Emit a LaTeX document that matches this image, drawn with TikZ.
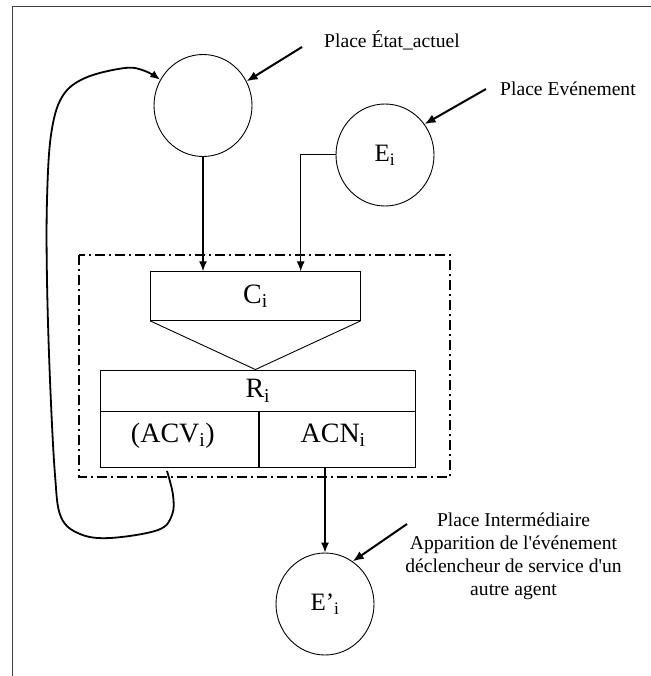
\documentclass[tikz,border=0pt]{standalone}
\usepackage{fontspec}
\setmainfont{Liberation Serif}[Ligatures=TeXOff]
\usetikzlibrary{shapes.geometric,arrows.meta}
\begin{document}
\begin{tikzpicture}[x=1pt,y=-1pt,
  place/.style={ellipse,draw,line width=0.9pt,minimum width=98pt,minimum height=102pt,inner sep=0pt,font=\fontsize{25}{30}\selectfont},
  cell/.style={rectangle,draw,line width=0.9pt,inner sep=0pt,font=\fontsize{28}{32}\selectfont},
  celltext/.style={inner sep=0pt,font=\fontsize{28}{32}\selectfont},
  arc/.style={line width=1.4pt,-{Latex[length=10pt,width=8pt]}},
  lblarrow/.style={line width=2pt,-{Latex[length=11pt,width=9pt]}},
  lbl/.style={font=\fontsize{19.6}{23}\selectfont,inner sep=0pt},
  dashdotbox/.style={line width=2.5pt,dash pattern=on 10pt off 4pt on 2pt off 4pt},
  framel/.style={line width=0.8pt,black!75}]
\useasboundingbox (0,0) rectangle (650,676);
\draw[framel] (12,690) -- (12,6) -- (660,6);

% places
\node[place] (c1) at (203,105.5) {};
\node[place] (ei) at (385,155) {E\textsubscript{i}};
\node[place] (ep) at (325,604) {E’\textsubscript{i}};

% transition
\draw[dashdotbox] (79,255) rectangle (450,477);
\node[cell,minimum width=209.3pt,minimum height=48.8pt] (cbox) at (255.4,296.1) {C\textsubscript{i}};
\node[cell,minimum width=314.3pt,minimum height=41.7pt] (rtop) at (257.85,390.85) {R\textsubscript{i}};
\node[cell,minimum width=158.3pt,minimum height=55.6pt] (racv) at (179.85,439.5) {};
\node[cell,minimum width=156.7pt,minimum height=55.6pt] (racn) at (337.15,439.5) {};
\node[celltext] (tacv) at ([shift={(-7,-4)}]racv.center) {(ACV\textsubscript{i})};
\node[celltext] (tacn) at ([shift={(-4,-4)}]racn.center) {ACN\textsubscript{i}};
\coordinate (apex) at (cbox.south |- rtop.north);
\draw[line width=0.9pt] (cbox.south west) -- (apex) -- (cbox.south east);

% labels
\node[lbl,anchor=base west] (tEtat) at (324,48) {Place État\_actuel};
\node[lbl,anchor=base west] (tEvt) at (500,95.7) {Place Evénement};
\node[lbl,align=center,anchor=north] (tInt) at (513.5,513) {Place Intermédiaire\\Apparition de l'événement\\déclencheur de service d'un\\autre agent};
\coordinate (aEtat) at (302,47);
\coordinate (aEvt) at (486,89);
\coordinate (aInt) at (407,524);
\draw[lblarrow] (aEtat) -- (c1.29);
\draw[lblarrow] (aEvt) -- (ei.38);
\draw[lblarrow] (aInt) -- (ep.57);

% arcs
\draw[arc] (c1.south) -- (c1.south |- cbox.north);
\draw[arc,line width=1pt] (ei.west) -| ([xshift=45.3pt]cbox.north);
\draw[arc] (racn.south -| ep.north) -- (ep.north);
\coordinate (loopS) at (167,471);
\draw[line width=1.8pt,-{Latex[length=10pt,width=8pt]}] plot[smooth,tension=0.6] coordinates {(loopS) (173,495) (172,515) (158,530) (110,538) (80,534) (61,517) (55,475) (50,380) (47,280) (47,200) (51,135) (62,97) (85,78) (125,68) (145,71) (c1.149)};
\end{tikzpicture}
\end{document}
